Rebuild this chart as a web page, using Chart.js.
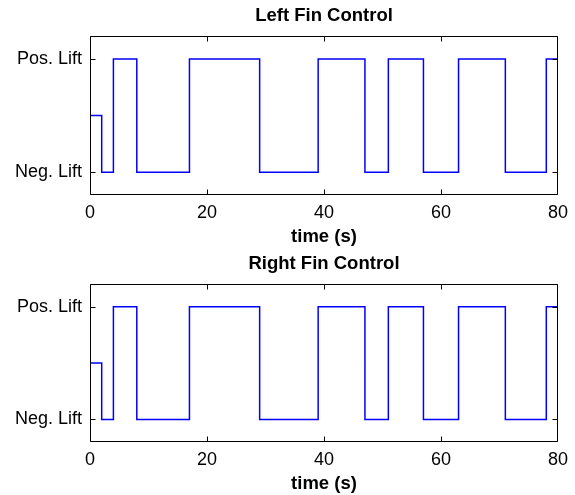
<!DOCTYPE html>
<html>
<head>
<meta charset="utf-8">
<script src="https://cdn.jsdelivr.net/npm/chart.js"></script>
<style>
body { margin: 0; background: #fff; }
.panel { position: absolute; left: 0; width: 575px; }
</style>
</head>
<body>
<div class="panel" style="top:0;height:248px"><canvas id="leftFin"></canvas></div>
<div class="panel" style="top:248px;height:247px"><canvas id="rightFin"></canvas></div>
<script>
var xTicks = [0, 20, 40, 60, 80];
var liftLevels = [-1, 1];
var liftLabels = ["Neg. Lift", "Pos. Lift"];

// switching times (s) and the command held from each time on
var leftTimes = [0, 2, 4, 8, 17, 29, 39, 47, 51, 57, 63, 71, 78, 80];
var leftLift = [0, -1, 1, -1, 1, -1, 1, -1, 1, -1, 1, -1, 1, 1];
var rightTimes = [0, 2, 4, 8, 17, 29, 39, 47, 51, 57, 63, 71, 78, 80];
var rightLift = [0, -1, 1, -1, 1, -1, 1, -1, 1, -1, 1, -1, 1, 1];

// axes box with inward tick marks on all four sides
var boxTicks = {
  id: 'boxTicks',
  afterDraw: function(chart) {
    var a = chart.chartArea, ctx = chart.ctx;
    var xs = chart.scales.x, ys = chart.scales.y;
    var l = Math.round(a.left) + 0.5, r = Math.round(a.right) - 0.5;
    var t = Math.round(a.top) + 0.5, b = Math.round(a.bottom) - 0.5;
    ctx.save();
    ctx.strokeStyle = '#000';
    ctx.lineWidth = 1;
    ctx.beginPath();
    ctx.rect(l, t, r - l, b - t);
    xTicks.forEach(function(v) {
      var x = Math.round(xs.getPixelForValue(v)) + 0.5;
      if (v === 0) x = l;
      if (v === 80) x = r;
      ctx.moveTo(x, b); ctx.lineTo(x, b - 5);
      ctx.moveTo(x, t); ctx.lineTo(x, t + 5);
    });
    liftLevels.forEach(function(v) {
      var y = Math.round(ys.getPixelForValue(v)) + 0.5;
      ctx.moveTo(l, y); ctx.lineTo(l + 5, y);
      ctx.moveTo(r, y); ctx.lineTo(r - 5, y);
    });
    ctx.stroke();
    ctx.restore();
  }
};

var tickFont = { family: 'Liberation Sans', size: 18 };
var boldFont = { family: 'Liberation Sans', size: 18.5, weight: 'bold' };

function finChart(id, title, times, lift) {
  new Chart(id, {
    type: 'line',
    data: {
      datasets: [{
        data: times.map(function(t, i) { return { x: t, y: lift[i] }; }),
        borderColor: '#0000ff',
        borderWidth: 1.5,
        pointRadius: 0,
        stepped: 'before',
        fill: false
      }]
    },
    options: {
      animation: false,
      responsive: true,
      maintainAspectRatio: false,
      layout: { padding: { left: 0, right: 16, top: 0, bottom: 0 } },
      plugins: {
        legend: { display: false },
        tooltip: { enabled: false },
        title: {
          display: true,
          text: title,
          fullSize: false,
          color: '#000',
          font: boldFont,
          padding: { top: 5, bottom: 9 }
        }
      },
      scales: {
        x: {
          type: 'linear',
          min: 0,
          max: 80,
          grid: { display: false, drawTicks: false },
          border: { display: false },
          afterBuildTicks: function(scale) {
            scale.ticks = xTicks.map(function(v) { return { value: v }; });
          },
          afterFit: function(scale) { scale.height = 53; },
          ticks: { color: '#000', font: tickFont, padding: 7, maxRotation: 0 },
          title: {
            display: true,
            text: 'time (s)',
            color: '#000',
            font: boldFont,
            padding: { top: 0, bottom: 0 }
          }
        },
        y: {
          min: -1.4,
          max: 1.4,
          grid: { display: false, drawTicks: false },
          border: { display: false },
          afterBuildTicks: function(scale) {
            scale.ticks = liftLevels.map(function(v) { return { value: v }; });
          },
          afterFit: function(scale) { scale.width = 90; },
          ticks: {
            color: '#000',
            font: tickFont,
            padding: 8,
            callback: function(value) { return liftLabels[liftLevels.indexOf(value)]; }
          }
        }
      }
    },
    plugins: [boxTicks]
  });
}

finChart('leftFin', 'Left Fin Control', leftTimes, leftLift);
finChart('rightFin', 'Right Fin Control', rightTimes, rightLift);
</script>
</body>
</html>
